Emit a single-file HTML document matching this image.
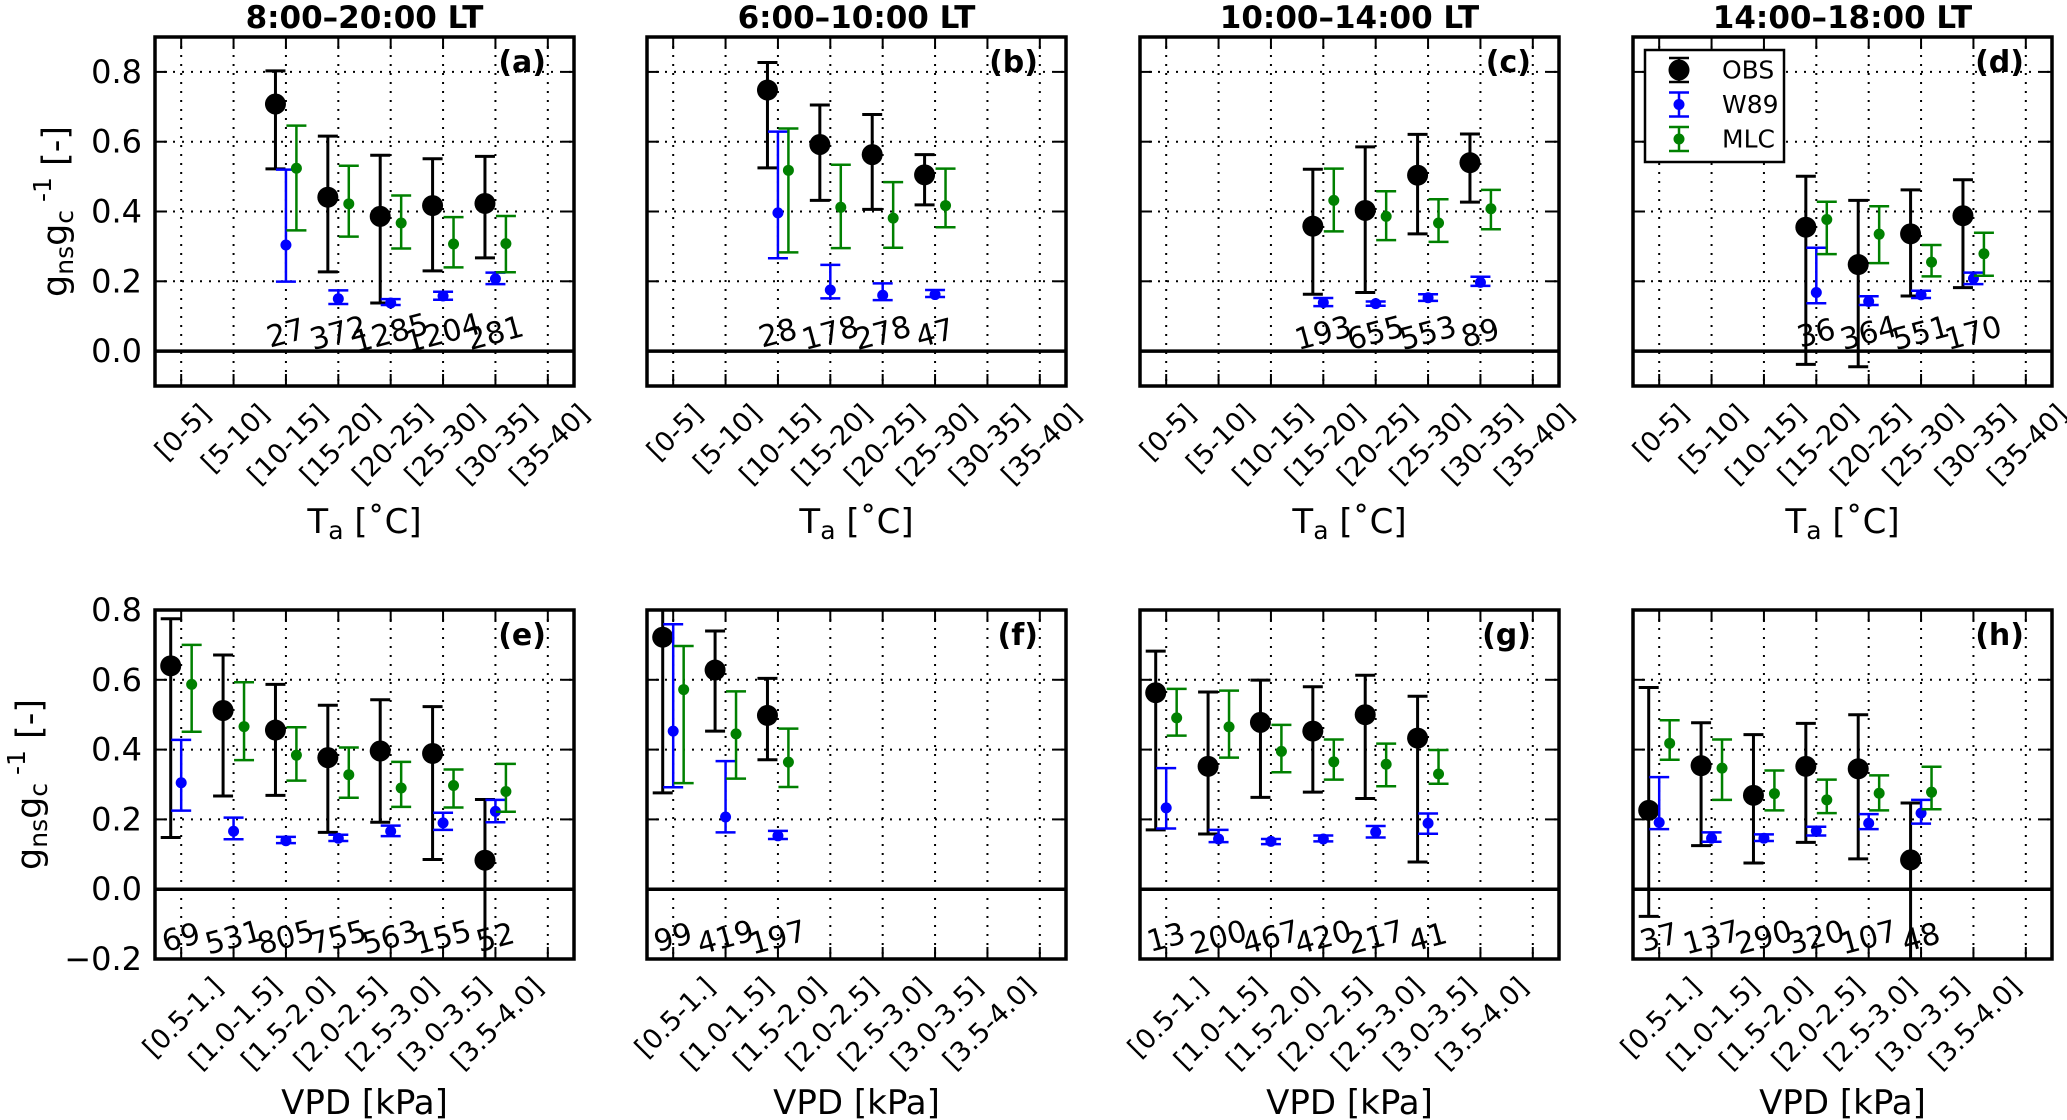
<!DOCTYPE html>
<html><head><meta charset="utf-8"><style>
html,body{margin:0;padding:0;background:#fff;}
svg{display:block;font-family:"DejaVu Sans","Liberation Sans",sans-serif;}
</style></head><body>
<svg id="fig" width="2067" height="1120" viewBox="0 0 2067 1120" xmlns="http://www.w3.org/2000/svg"></svg>
<script>
// ---------- category labels ----------
const taCats = ["[0-5]","[5-10]","[10-15]","[15-20]","[20-25]","[25-30]","[30-35]","[35-40]"];
const vpdCats = ["[0.5-1.]","[1.0-1.5]","[1.5-2.0]","[2.0-2.5]","[2.5-3.0]","[3.0-3.5]","[3.5-4.0]"];
const topYTicks = [0.0,0.2,0.4,0.6,0.8];
const topYTickLabels = ["0.0","0.2","0.4","0.6","0.8"];
const botYTicks = [-0.2,0.0,0.2,0.4,0.6,0.8];
const botYTickLabels = ["\u22120.2","0.0","0.2","0.4","0.6","0.8"];

// ---------- panel (a) ----------
const a_cat = [2,3,4,5,6];
const a_obs = [0.708,0.441,0.386,0.417,0.423];
const a_obsLo = [0.522,0.227,0.138,0.230,0.267];
const a_obsHi = [0.803,0.616,0.561,0.551,0.558];
const a_w89 = [0.304,0.150,0.138,0.158,0.207];
const a_w89Lo = [0.199,0.135,0.132,0.147,0.192];
const a_w89Hi = [0.520,0.174,0.149,0.170,0.225];
const a_mlc = [0.524,0.422,0.367,0.307,0.308];
const a_mlcLo = [0.346,0.328,0.294,0.240,0.226];
const a_mlcHi = [0.646,0.531,0.446,0.384,0.387];
const a_n = ["27","372","1285","1204","281"];
// ---------- panel (b) ----------
const b_cat = [2,3,4,5];
const b_obs = [0.748,0.592,0.563,0.505];
const b_obsLo = [0.525,0.432,0.406,0.419];
const b_obsHi = [0.827,0.705,0.678,0.563];
const b_w89 = [0.396,0.175,0.160,0.162];
const b_w89Lo = [0.266,0.151,0.146,0.155];
const b_w89Hi = [0.629,0.247,0.194,0.175];
const b_mlc = [0.518,0.412,0.381,0.417];
const b_mlcLo = [0.283,0.295,0.296,0.355];
const b_mlcHi = [0.638,0.534,0.484,0.523];
const b_n = ["28","178","278","47"];
// ---------- panel (c) ----------
const c_cat = [3,4,5,6];
const c_obs = [0.358,0.403,0.504,0.540];
const c_obsLo = [0.163,0.168,0.336,0.427];
const c_obsHi = [0.521,0.585,0.621,0.622];
const c_w89 = [0.139,0.136,0.153,0.197];
const c_w89Lo = [0.129,0.130,0.144,0.187];
const c_w89Hi = [0.152,0.142,0.163,0.213];
const c_mlc = [0.432,0.386,0.367,0.408];
const c_mlcLo = [0.343,0.318,0.313,0.349];
const c_mlcHi = [0.523,0.458,0.435,0.462];
const c_n = ["193","655","553","89"];
// ---------- panel (d) ----------
const d_cat = [3,4,5,6];
const d_obs = [0.355,0.248,0.336,0.388];
const d_obsLo = [-0.038,-0.045,0.158,0.182];
const d_obsHi = [0.501,0.432,0.462,0.491];
const d_w89 = [0.168,0.142,0.161,0.208];
const d_w89Lo = [0.137,0.132,0.152,0.192];
const d_w89Hi = [0.296,0.157,0.173,0.225];
const d_mlc = [0.377,0.335,0.255,0.279];
const d_mlcLo = [0.278,0.252,0.214,0.216];
const d_mlcHi = [0.428,0.415,0.304,0.339];
const d_n = ["36","364","551","170"];
// ---------- panel (e) ----------
const e_cat = [0,1,2,3,4,5,6];
const e_obs = [0.640,0.512,0.456,0.377,0.396,0.389,0.083];
const e_obsLo = [0.148,0.267,0.269,0.163,0.192,0.085,-0.30];
const e_obsHi = [0.775,0.671,0.587,0.527,0.543,0.523,0.257];
const e_w89 = [0.305,0.166,0.139,0.146,0.166,0.190,0.223];
const e_w89Lo = [0.225,0.143,0.132,0.138,0.152,0.170,0.192];
const e_w89Hi = [0.428,0.205,0.150,0.156,0.182,0.219,0.256];
const e_mlc = [0.587,0.466,0.384,0.328,0.290,0.297,0.280];
const e_mlcLo = [0.451,0.370,0.311,0.262,0.236,0.234,0.222];
const e_mlcHi = [0.700,0.593,0.464,0.406,0.365,0.343,0.359];
const e_n = ["69","531","805","755","563","155","52"];
// ---------- panel (f) ----------
const f_cat = [0,1,2];
const f_obs = [0.722,0.628,0.498];
const f_obsLo = [0.276,0.453,0.371];
const f_obsHi = [0.85,0.740,0.604];
const f_w89 = [0.453,0.207,0.153];
const f_w89Lo = [0.292,0.163,0.144];
const f_w89Hi = [0.759,0.367,0.167];
const f_mlc = [0.572,0.445,0.364];
const f_mlcLo = [0.304,0.317,0.293];
const f_mlcHi = [0.697,0.567,0.460];
const f_n = ["99","419","197"];
// ---------- panel (g) ----------
const g_cat = [0,1,2,3,4,5];
const g_obs = [0.563,0.352,0.478,0.453,0.500,0.433];
const g_obsLo = [0.170,0.158,0.263,0.278,0.260,0.078];
const g_obsHi = [0.682,0.565,0.599,0.580,0.613,0.553];
const g_w89 = [0.233,0.144,0.137,0.144,0.164,0.189];
const g_w89Lo = [0.174,0.135,0.129,0.137,0.148,0.159];
const g_w89Hi = [0.347,0.170,0.144,0.154,0.181,0.217];
const g_mlc = [0.491,0.465,0.395,0.365,0.358,0.330];
const g_mlcLo = [0.440,0.377,0.335,0.314,0.295,0.302];
const g_mlcHi = [0.574,0.569,0.471,0.429,0.417,0.399];
const g_n = ["13","200","467","420","217","41"];
// ---------- panel (h) ----------
const h_cat = [0,1,2,3,4,5];
const h_obs = [0.226,0.354,0.269,0.352,0.345,0.084];
const h_obsLo = [-0.078,0.125,0.075,0.134,0.087,-0.30];
const h_obsHi = [0.578,0.477,0.443,0.475,0.500,0.247];
const h_w89 = [0.191,0.146,0.146,0.167,0.189,0.218];
const h_w89Lo = [0.172,0.136,0.138,0.154,0.172,0.188];
const h_w89Hi = [0.321,0.163,0.157,0.179,0.215,0.256];
const h_mlc = [0.418,0.347,0.274,0.256,0.275,0.278];
const h_mlcLo = [0.371,0.256,0.226,0.218,0.226,0.229];
const h_mlcHi = [0.484,0.429,0.340,0.314,0.326,0.351];
const h_n = ["37","137","290","320","107","48"];

const NS = "http://www.w3.org/2000/svg";
const fig = document.getElementById('fig');
function mk(tag, attrs, parent){
  const el = document.createElementNS(NS, tag);
  for (const k in attrs) el.setAttribute(k, attrs[k]);
  (parent||fig).appendChild(el);
  return el;
}
const PW = 419;
const colX = [155, 647, 1140, 1633];
const rowY = [37, 610];
const PH = 349;

const panels = [
  {id:'a',col:0,row:0,cat:a_cat,obs:a_obs,obsLo:a_obsLo,obsHi:a_obsHi,w:a_w89,wLo:a_w89Lo,wHi:a_w89Hi,m:a_mlc,mLo:a_mlcLo,mHi:a_mlcHi,n:a_n,title:"8:00\u201320:00 LT"},
  {id:'b',col:1,row:0,cat:b_cat,obs:b_obs,obsLo:b_obsLo,obsHi:b_obsHi,w:b_w89,wLo:b_w89Lo,wHi:b_w89Hi,m:b_mlc,mLo:b_mlcLo,mHi:b_mlcHi,n:b_n,title:"6:00\u201310:00 LT"},
  {id:'c',col:2,row:0,cat:c_cat,obs:c_obs,obsLo:c_obsLo,obsHi:c_obsHi,w:c_w89,wLo:c_w89Lo,wHi:c_w89Hi,m:c_mlc,mLo:c_mlcLo,mHi:c_mlcHi,n:c_n,title:"10:00\u201314:00 LT"},
  {id:'d',col:3,row:0,cat:d_cat,obs:d_obs,obsLo:d_obsLo,obsHi:d_obsHi,w:d_w89,wLo:d_w89Lo,wHi:d_w89Hi,m:d_mlc,mLo:d_mlcLo,mHi:d_mlcHi,n:d_n,title:"14:00\u201318:00 LT"},
  {id:'e',col:0,row:1,cat:e_cat,obs:e_obs,obsLo:e_obsLo,obsHi:e_obsHi,w:e_w89,wLo:e_w89Lo,wHi:e_w89Hi,m:e_mlc,mLo:e_mlcLo,mHi:e_mlcHi,n:e_n},
  {id:'f',col:1,row:1,cat:f_cat,obs:f_obs,obsLo:f_obsLo,obsHi:f_obsHi,w:f_w89,wLo:f_w89Lo,wHi:f_w89Hi,m:f_mlc,mLo:f_mlcLo,mHi:f_mlcHi,n:f_n},
  {id:'g',col:2,row:1,cat:g_cat,obs:g_obs,obsLo:g_obsLo,obsHi:g_obsHi,w:g_w89,wLo:g_w89Lo,wHi:g_w89Hi,m:g_mlc,mLo:g_mlcLo,mHi:g_mlcHi,n:g_n},
  {id:'h',col:3,row:1,cat:h_cat,obs:h_obs,obsLo:h_obsLo,obsHi:h_obsHi,w:h_w89,wLo:h_w89Lo,wHi:h_w89Hi,m:h_mlc,mLo:h_mlcLo,mHi:h_mlcHi,n:h_n}
];

function errbar(g, x, v, lo, hi, sx, sy, color, r, cap, lw, name){
  const grp = mk('g', {}, g);
  
  
  const X = sx(x);
  mk('line',{x1:X,x2:X,y1:sy(lo),y2:sy(hi),stroke:color,'stroke-width':lw},grp);
  mk('line',{x1:X-cap,x2:X+cap,y1:sy(lo),y2:sy(lo),stroke:color,'stroke-width':lw},grp);
  mk('line',{x1:X-cap,x2:X+cap,y1:sy(hi),y2:sy(hi),stroke:color,'stroke-width':lw},grp);
  mk('circle',{cx:X,cy:sy(v),r:r,fill:color},grp);
}

panels.forEach((p, i) => {
  const px = colX[p.col], py = rowY[p.row];
  const ylo = p.row===0 ? -0.1 : -0.2, yhi = p.row===0 ? 0.9 : 0.8;
  const nc = 8;
  const cats = p.row===0 ? taCats : vpdCats;
  const sx = c => px + (c + 0.5) * PW / nc;
  const sy = v => py + (yhi - v) / (yhi - ylo) * PH;
  const g = mk('g', {});
  
  
  mk('defs',{},g).innerHTML = '<clipPath id="clip'+p.id+'"><rect x="'+px+'" y="'+py+'" width="'+PW+'" height="'+PH+'"/></clipPath>';
  const yt = p.row===0 ? topYTicks : botYTicks;
  const ytl = p.row===0 ? topYTickLabels : botYTickLabels;
  const grid = mk('g', {}, g);
  
  
  for (let c = 0; c < nc; c++) {
    mk('line',{x1:sx(c),x2:sx(c),y1:py,y2:py+PH,stroke:'#000','stroke-width':2,'stroke-dasharray':'2,7'},grid);
  }
  yt.forEach(v => { if (v !== 0) mk('line',{x1:px,x2:px+PW,y1:sy(v),y2:sy(v),stroke:'#000','stroke-width':2,'stroke-dasharray':'2,7'},grid); });
  const zl = mk('line',{x1:px,x2:px+PW,y1:sy(0),y2:sy(0),stroke:'#000','stroke-width':3.5},g);
  
  
  for (let c = 0; c < nc; c++) {
    mk('line',{x1:sx(c),x2:sx(c),y1:py+PH,y2:py+PH-12,stroke:'#000','stroke-width':2},g);
    mk('line',{x1:sx(c),x2:sx(c),y1:py,y2:py+12,stroke:'#000','stroke-width':2},g);
  }
  yt.forEach(v => {
    mk('line',{x1:px,x2:px+12,y1:sy(v),y2:sy(v),stroke:'#000','stroke-width':2},g);
    mk('line',{x1:px+PW,x2:px+PW-12,y1:sy(v),y2:sy(v),stroke:'#000','stroke-width':2},g);
  });
  const dg = mk('g', {'clip-path':'url(#clip'+p.id+')'}, g);
  p.cat.forEach((c, k) => {
    errbar(dg, c-0.2, p.obs[k], p.obsLo[k], p.obsHi[k], sx, sy, '#000', 10.5, 10, 3, 'obs-point-'+p.id+'-'+c);
  });
  p.cat.forEach((c, k) => {
    errbar(dg, c, p.w[k], p.wLo[k], p.wHi[k], sx, sy, '#0000ff', 5.5, 10, 2.5, 'w89-point-'+p.id+'-'+c);
  });
  p.cat.forEach((c, k) => {
    errbar(dg, c+0.2, p.m[k], p.mLo[k], p.mHi[k], sx, sy, '#008000', 5.5, 10, 2.5, 'mlc-point-'+p.id+'-'+c);
  });
  const ny = p.row===0 ? 0.05 : -0.14;
  p.cat.forEach((c, k) => {
    const t = mk('text',{x:sx(c),y:sy(ny),'text-anchor':'middle','dominant-baseline':'central','font-size':30,transform:'rotate(-15 '+sx(c)+' '+sy(ny)+')'},g);
    
    
    t.textContent = p.n[k];
  });
  const sp = mk('rect',{x:px,y:py,width:PW,height:PH,fill:'none',stroke:'#000','stroke-width':3.5},g);
  
  
  const pl = mk('text',{x:px+PW-28,y:py+35,'text-anchor':'end','font-size':30,'font-weight':'bold'},g);
  
  
  pl.textContent = '(' + p.id + ')';
  cats.forEach((lab, c) => {
    const t = mk('text',{'font-size':27,'text-anchor':'middle','dominant-baseline':'central'},g);
    
    
    t.textContent = lab;
    const w = t.getComputedTextLength ? t.getComputedTextLength() : lab.length*15;
    const h = 27;
    const cy = py + PH + 14 + (w + h) * 0.7071 / 2;
    const cx = sx(c) + 2;
    t.setAttribute('x', cx); t.setAttribute('y', cy);
    t.setAttribute('transform', 'rotate(-45 '+cx+' '+cy+')');
  });
  if (p.col === 0) {
    yt.forEach((v, k) => {
      const t = mk('text',{x:px-13,y:sy(v),'text-anchor':'end','dominant-baseline':'central','font-size':32},g);
      
      
      t.textContent = ytl[k];
    });
    const lx = p.row===0 ? 56 : 30, ly = py + PH/2;
    const yl = mk('text',{x:lx,y:ly,'text-anchor':'middle','dominant-baseline':'central','font-size':35,transform:'rotate(-90 '+lx+' '+ly+')'},g);
    
    
    yl.innerHTML = 'g<tspan font-size="25" dy="8">ns</tspan><tspan dy="-8">g</tspan><tspan font-size="25" dy="8">c</tspan><tspan font-size="25" dy="-22"> -1</tspan><tspan dy="14"> [-]</tspan>';
  }
  const xy = p.row===0 ? 522 : 1103;
  const xl = mk('text',{x:px+PW/2,y:xy,'text-anchor':'middle','dominant-baseline':'central','font-size':34},g);
  
  
  if (p.row===0) xl.innerHTML = 'T<tspan font-size="25" dy="8">a</tspan><tspan dy="-8"> [\u02DAC]</tspan>';
  else xl.textContent = 'VPD [kPa]';
  if (p.title) {
    const tt = mk('text',{x:px+PW/2,y:18,'text-anchor':'middle','dominant-baseline':'central','font-size':31,'font-weight':'bold'},g);
    
    
    tt.textContent = p.title;
  }
});

const lg = mk('g', {});


mk('rect',{x:1645,y:50,width:139,height:112,fill:'#fff',stroke:'#000','stroke-width':2.5},lg);
const legNames = ["OBS","W89","MLC"];
const legColors = ['#000','#0000ff','#008000'];
const legR = [10.5,5.5,5.5];
legNames.forEach((nm, k) => {
  const e = mk('g', {}, lg);
  
  
  const cy = 70 + k*34.5, cx = 1679;
  mk('line',{x1:cx,x2:cx,y1:cy-12,y2:cy+12,stroke:legColors[k],'stroke-width':2.5},e);
  mk('line',{x1:cx-10,x2:cx+10,y1:cy-12,y2:cy-12,stroke:legColors[k],'stroke-width':2.5},e);
  mk('line',{x1:cx-10,x2:cx+10,y1:cy+12,y2:cy+12,stroke:legColors[k],'stroke-width':2.5},e);
  mk('circle',{cx:cx,cy:cy,r:legR[k],fill:legColors[k]},e);
  const t = mk('text',{x:1722,y:cy,'dominant-baseline':'central','font-size':25},e);
  t.textContent = nm;
});
</script>
</body></html>
